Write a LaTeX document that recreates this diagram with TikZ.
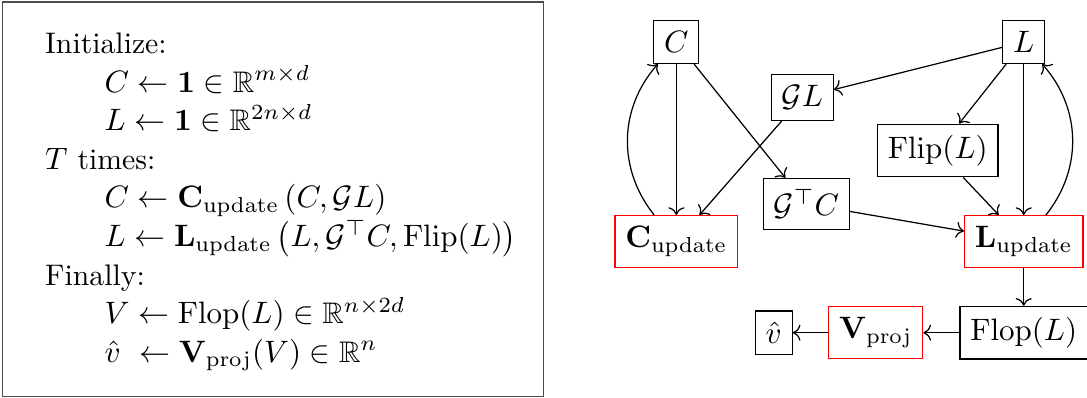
\documentclass[tikz,border=0pt]{standalone}
\usepackage{amsmath,amssymb}
\usetikzlibrary{arrows.meta}

\begin{document}
\begin{tikzpicture}[font=\fontsize{9.6pt}{11.5pt}\selectfont,
 box/.style={draw,inner xsep=0.3333em,inner ysep=3.5pt},
 updbox/.style={draw=red,inner xsep=0.3333em,inner ysep=3.5pt},
 flow/.style={-{To}},
 % Pseudocode lines: indented steps sit two em in from their heading.
 algotext/.style={anchor=north west,inner sep=0pt,align=left,
   font=\fontsize{9.6pt}{12.45pt}\selectfont}]
\useasboundingbox (0,0) rectangle (12.33,-4.51);

% Algorithm summary in a framed panel on the left.
\draw[black!70,line width=0.5pt] (0.03,-0.02) rectangle (6.165,-4.495);
\node[algotext] (algo) at (0.506,-0.367) {%
 Initialize:\\
 \hspace*{2em}$C \leftarrow \mathbf{1} \in \mathbb{R}^{m\times d}$\\
 \hspace*{2em}$L \leftarrow \mathbf{1} \in \mathbb{R}^{2n\times d}$\\
 $T$ times:\\
 \hspace*{2em}$C \leftarrow \mathbf{C}_{\mathrm{update}}\left(C, \mathcal{G}L\right)$\\
 \hspace*{2em}$L \leftarrow \mathbf{L}_{\mathrm{update}}\left(L, \mathcal{G}^{\top}C, \mathrm{Flip}(L)\right)$\\
 Finally:\\
 \hspace*{2em}$V \leftarrow \mathrm{Flop}(L) \in \mathbb{R}^{n\times 2d}$\\
 \hspace*{2em}$\hat{v}\ \leftarrow \mathbf{V}_{\mathrm{proj}}(V) \in \mathbb{R}^{n}$};

% Data flow of one iteration; learned blocks are framed in red.
\node[box] (C) at (7.672,-0.476) {$C$};
\node[box] (L) at (11.612,-0.476) {$L$};
\node[box] (GL) at (9.100,-1.106) {$\mathcal{G}L$};
\node[box] (Flip) at (10.637,-1.707) {$\mathrm{Flip}(L)$};
\node[box] (GtC) at (9.146,-2.313) {$\mathcal{G}^{\top}C$};
\node[updbox] (Cupd) at (7.672,-2.739) {$\mathbf{C}_{\mathrm{update}}$};
\node[updbox] (Lupd) at (11.612,-2.739) {$\mathbf{L}_{\mathrm{update}}$};
\node[box] (Flop) at (11.612,-3.774) {$\mathrm{Flop}(L)$};
\node[updbox] (Vproj) at (9.934,-3.774) {$\mathbf{V}_{\mathrm{proj}}$};
\node[box] (vhat) at (8.777,-3.774) {$\hat{v}$};

\draw[flow] (C) -- (Cupd);
\draw[flow] (C) -- (GtC);
\draw[flow] (GL) -- (Cupd);
\draw[flow] (Cupd) to[bend left=40] (C);
\draw[flow] (L) -- (GL);
\draw[flow] (L) -- (Flip);
\draw[flow] (L) -- (Lupd);
\draw[flow] (Flip) -- (Lupd);
\draw[flow] (GtC) -- (Lupd);
\draw[flow] (Lupd) to[bend right=40] (L);

% Readout after the last iteration.
\draw[flow] (Lupd) -- (Flop);
\draw[flow] (Flop) -- (Vproj);
\draw[flow] (Vproj) -- (vhat);
\end{tikzpicture}
\end{document}
